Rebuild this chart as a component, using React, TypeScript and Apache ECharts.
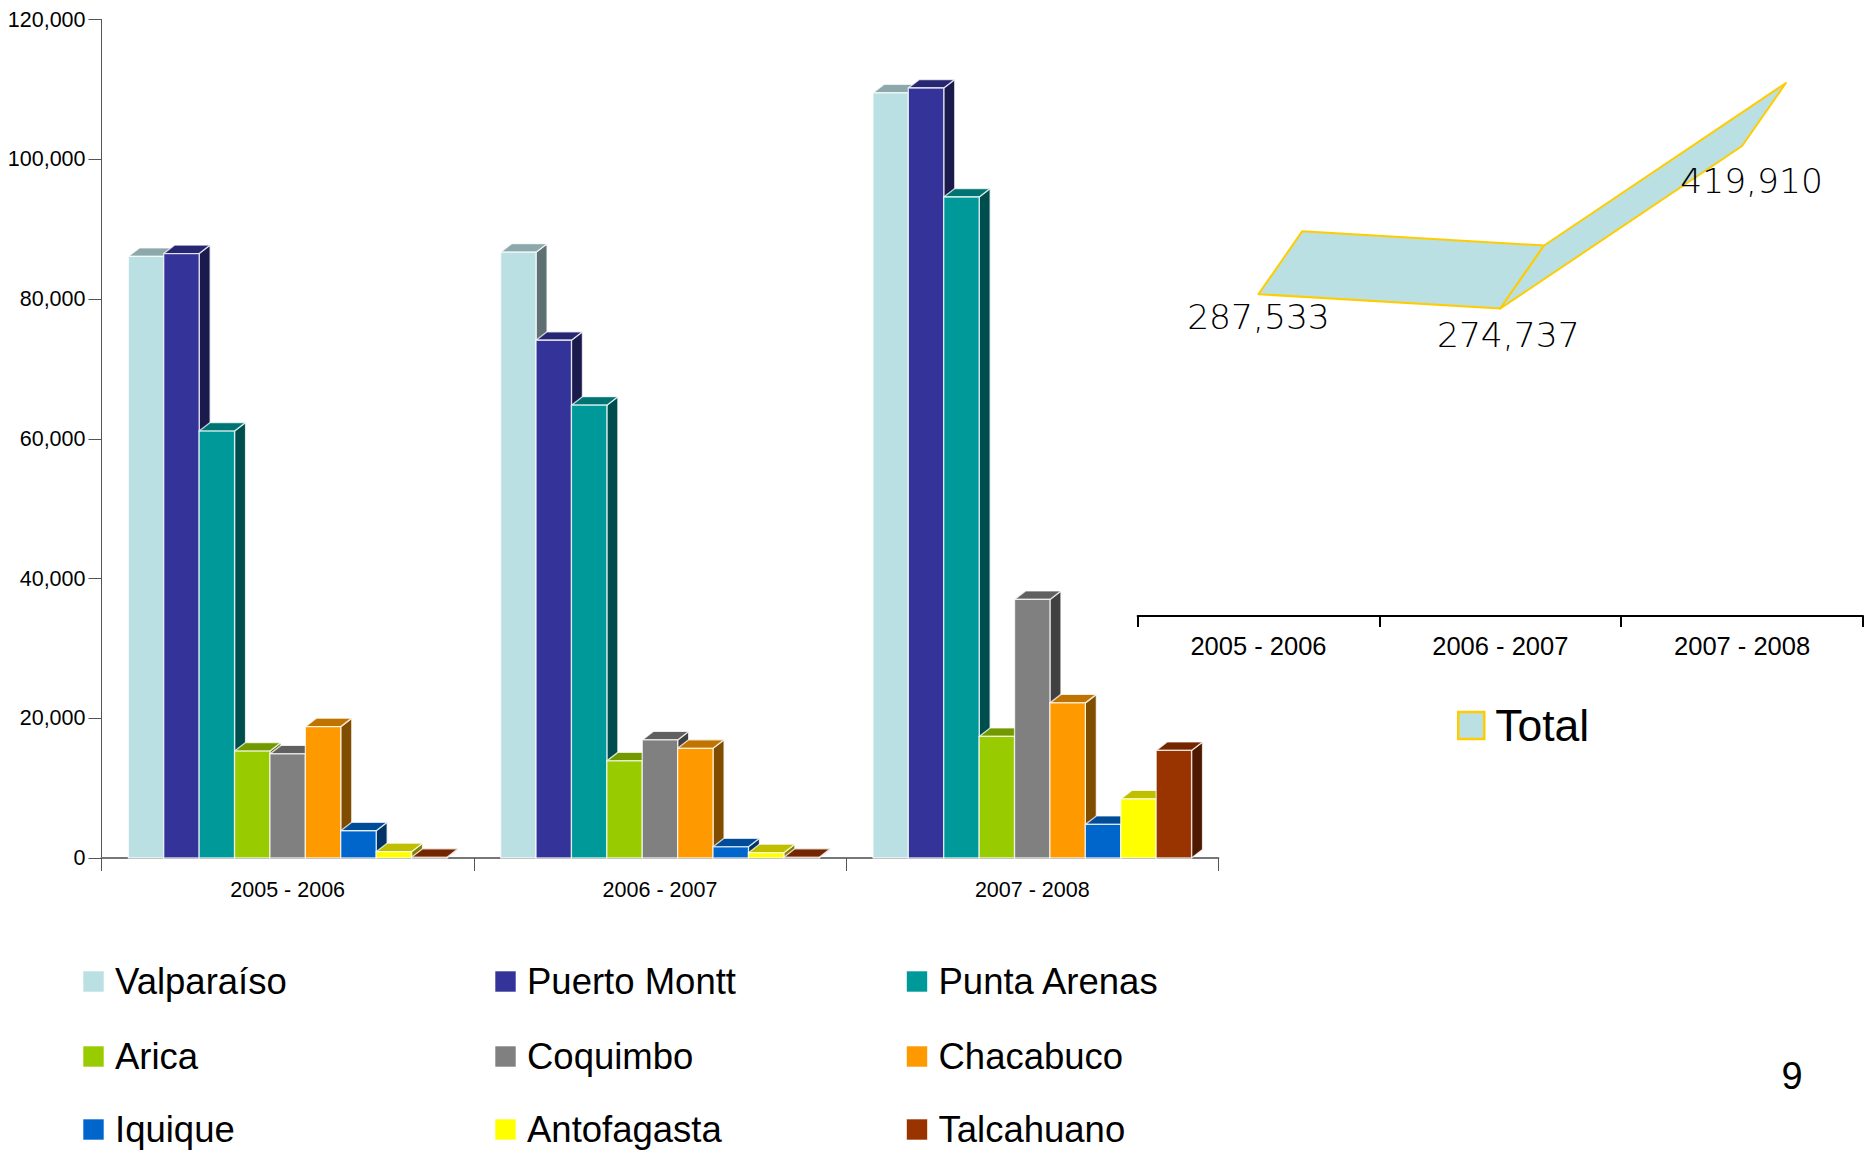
import React, { useEffect, useRef } from "react";
import * as echarts from "echarts";

const categories = ["2005 - 2006", "2006 - 2007", "2007 - 2008"];
const portNames = ["Valparaíso", "Puerto Montt", "Punta Arenas", "Arica", "Coquimbo", "Chacabuco", "Iquique", "Antofagasta", "Talcahuano"];
const valparaiso = [86100, 86700, 109500];
const puertoMontt = [86500, 74100, 110200];
const puntaArenas = [61100, 64800, 94600];
const arica = [15300, 13900, 17400];
const coquimbo = [14900, 16900, 37000];
const chacabuco = [18800, 15700, 22200];
const iquique = [3900, 1600, 4800];
const antofagasta = [900, 760, 8450];
const talcahuano = [100, 100, 15400];
const portValues = [valparaiso, puertoMontt, puntaArenas, arica, coquimbo, chacabuco, iquique, antofagasta, talcahuano];
const totals = [287533, 274737, 419910];

const frontColors = ["#BBE0E3", "#333399", "#009999", "#99CC00", "#808080", "#FF9900", "#0066CC", "#FFFF00", "#993300"];
const topColors = ["#8CA8AA", "#262673", "#007373", "#739900", "#606060", "#BF7300", "#004C99", "#BFBF00", "#732600"];
const sideColors = ["#5E7072", "#1A1A4D", "#004D4D", "#4D6600", "#404040", "#804D00", "#003366", "#808000", "#4D1A00"];

const FONT = "'Liberation Sans', Arial, sans-serif";
const EDGE = "rgba(255,255,255,0.75)";
const DX = 11;
const DY = 8.5;
const BAR_FRACTION = 35.4 / 372.3;
const RIBBON_DX = 43.8;
const RIBBON_DY = -63;
const TOTAL_LABEL_SHIFT = [[0, 23], [8, 26.5], [9.5, 34.7]];
const LEGEND_LEFTS = [82.5, 494.5, 906];
const LEGEND_TOPS = [963, 1038, 1111];

function barSeries(name: string, j: number, values: number[]) {
  return {
    type: "custom",
    name,
    xAxisIndex: 0,
    yAxisIndex: 0,
    itemStyle: { color: frontColors[j] },
    encode: { x: 0, y: 1 },
    data: values.map((v, i) => [i, v]),
    renderItem: (_p: any, api: any) => {
      const c = api.coord([api.value(0), api.value(1)]);
      const base = api.coord([api.value(0), 0]);
      const w = api.size([1, 0])[0] * BAR_FRACTION;
      const x0 = c[0] + (j - 4.5) * w;
      const x1 = x0 + w;
      const y0 = c[1];
      const y1 = base[1];
      const line = { stroke: EDGE, lineWidth: 1.3, lineJoin: "round" };
      return {
        type: "group",
        children: [
          { type: "polygon", shape: { points: [[x1, y1], [x1 + DX, y1 - DY], [x1 + DX, y0 - DY], [x1, y0]] }, style: { fill: sideColors[j], ...line } },
          { type: "polygon", shape: { points: [[x0, y0], [x0 + DX, y0 - DY], [x1 + DX, y0 - DY], [x1, y0]] }, style: { fill: topColors[j], ...line } },
          { type: "rect", shape: { x: x0, y: y0, width: w, height: y1 - y0 }, style: { fill: frontColors[j], ...line } },
        ],
      };
    },
  };
}

function legendCell(name: string, j: number) {
  return {
    orient: "vertical",
    left: LEGEND_LEFTS[j % 3],
    top: LEGEND_TOPS[Math.floor(j / 3)],
    padding: 0,
    data: [name],
    icon: "rect",
    itemWidth: 21,
    itemHeight: 21,
    selectedMode: false,
    itemStyle: { borderColor: "rgba(255,255,255,0.6)", borderWidth: 1 },
    textStyle: { fontFamily: FONT, fontSize: 36.5, color: "#000", padding: [0, 0, 0, 6] },
  };
}

export default function App() {
  const ref = useRef<HTMLDivElement>(null);
  useEffect(() => {
    document.body.style.margin = "0";
    const chart = echarts.init(ref.current!, undefined, { renderer: "svg" });
    const option: any = {
      animation: false,
      backgroundColor: "#fff",
      grid: [
        { left: 101.5, top: 19.5, width: 1116.9, height: 838.5 },
        { left: 1137.6, top: 56.4, width: 725.4, height: 559.6 },
      ],
      xAxis: [
        {
          type: "category",
          gridIndex: 0,
          data: categories,
          axisLine: { lineStyle: { color: "#777", width: 2 } },
          axisTick: { show: true, alignWithLabel: false, length: 13, lineStyle: { color: "#555", width: 1 } },
          axisLabel: { color: "#000", fontFamily: FONT, fontSize: 21.5, margin: 21 },
        },
        {
          type: "category",
          gridIndex: 1,
          data: categories,
          axisLine: { lineStyle: { color: "#000", width: 2 } },
          axisTick: { show: true, alignWithLabel: false, length: 11, lineStyle: { color: "#000", width: 2 } },
          axisLabel: { color: "#000", fontFamily: FONT, fontSize: 25.5, margin: 17 },
        },
      ],
      yAxis: [
        {
          type: "value",
          gridIndex: 0,
          min: 0,
          max: 120000,
          interval: 20000,
          splitLine: { show: false },
          axisLine: { show: true, lineStyle: { color: "#555", width: 1 } },
          axisTick: { show: true, length: 13, lineStyle: { color: "#555", width: 1 } },
          axisLabel: {
            color: "#000",
            fontFamily: FONT,
            fontSize: 21.5,
            margin: 16,
            formatter: (v: number) => v.toLocaleString("en-US"),
          },
        },
        { type: "value", gridIndex: 1, min: 0, max: 500000, show: false },
      ],
      legend: [
        ...portNames.map((name, j) => legendCell(name, j)),
        {
          left: 1457,
          top: 703,
          padding: 0,
          data: ["Total"],
          icon: "rect",
          itemWidth: 26,
          itemHeight: 27,
          selectedMode: false,
          itemStyle: { borderColor: "#FFCC00", borderWidth: 2.5 },
          textStyle: { fontFamily: FONT, fontSize: 44.5, color: "#000", padding: [0, 0, 0, 6] },
        },
      ],
      series: [
        ...portValues.map((vals, j) => barSeries(portNames[j], j, vals)),
        {
          type: "custom",
          name: "Total",
          xAxisIndex: 1,
          yAxisIndex: 1,
          itemStyle: { color: "#BBE0E3" },
          encode: { x: 0, y: 1 },
          data: totals.map((v, i) => [i, v]),
          renderItem: (params: any, api: any) => {
            const i = api.value(0);
            const p = api.coord([i, api.value(1)]);
            const children: any[] = [];
            if (i < totals.length - 1) {
              const q = api.coord([i + 1, totals[i + 1]]);
              children.push({
                type: "polygon",
                shape: { points: [p, q, [q[0] + RIBBON_DX, q[1] + RIBBON_DY], [p[0] + RIBBON_DX, p[1] + RIBBON_DY]] },
                style: { fill: "#BBE0E3", stroke: "#FFCC00", lineWidth: 2, lineJoin: "round" },
                z2: 1,
              });
            }
            const s = TOTAL_LABEL_SHIFT[i];
            children.push({
              type: "text",
              z2: 5,
              style: {
                x: p[0] + s[0],
                y: p[1] + s[1],
                text: totals[i].toLocaleString("en-US"),
                align: "center",
                verticalAlign: "middle",
                fill: "#000",
                font: "200 34.5px 'DejaVu Sans'",
              },
            });
            return { type: "group", children };
          },
        },
      ],
      graphic: [
        {
          type: "text",
          x: 1792,
          y: 1075.5,
          style: { text: "9", fill: "#000", font: `38px ${FONT}`, align: "center", verticalAlign: "middle" },
        },
      ],
    };
    chart.setOption(option);
    return () => chart.dispose();
  }, []);
  return <div ref={ref} style={{ width: 1873, height: 1150 }} />;
}
